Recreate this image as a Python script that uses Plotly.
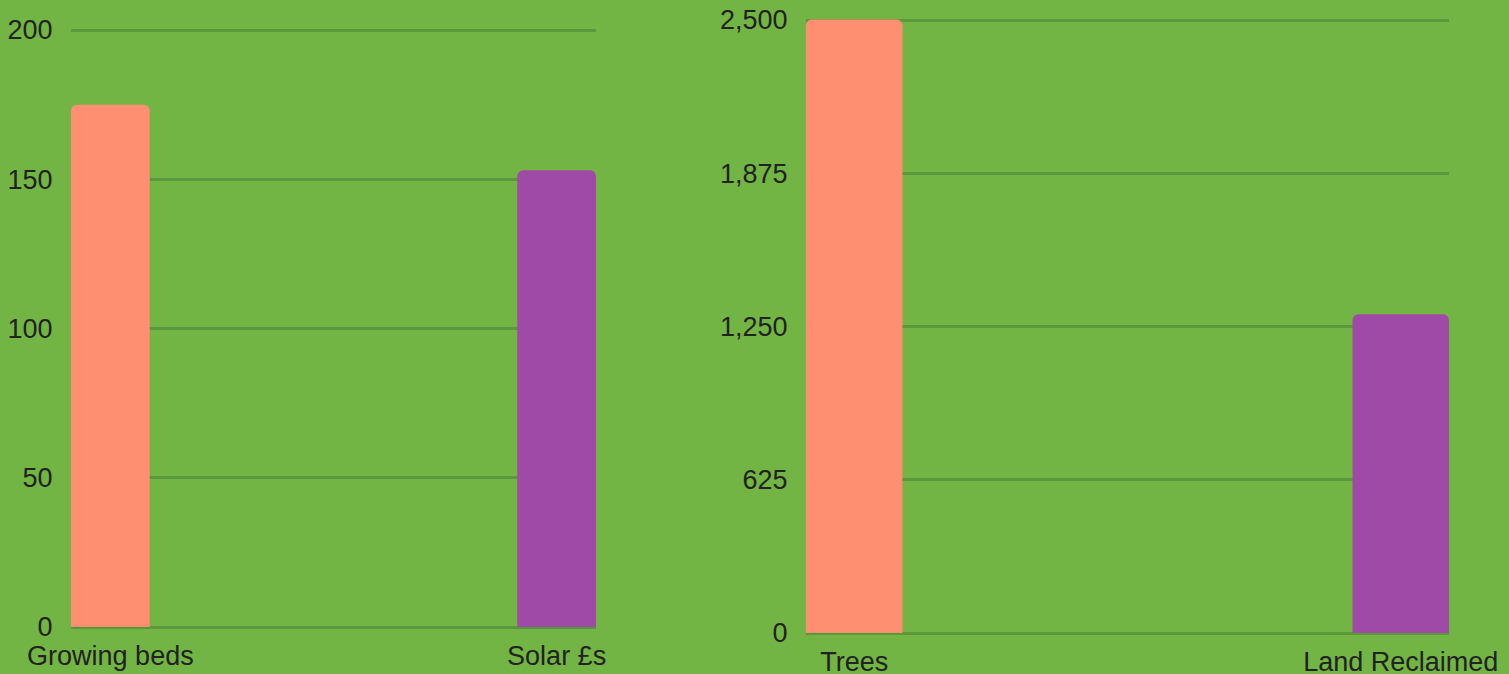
# Importa módulos
import plotly.graph_objects as go

# Dados
categorias_esq = ['Growing beds', 'Solar £s']
valores_esq = [175, 153]
ticks_esq = [0, 50, 100, 150, 200]

categorias_dir = ['Trees', 'Land Reclaimed']
valores_dir = [2502, 1300]
ticks_dir = [0, 625, 1250, 1875, 2500]

# Cores
fundo = '#72B545'
grade = '#5B983C'
texto = '#222222'
cores_barras = ['#FF8F70', '#A04AA8']

largura = 0.1765  # largura das barras (em unidades de categoria)

fig = go.Figure()

# Gráfico da esquerda
fig.add_trace(go.Bar(
    x=categorias_esq,
    y=valores_esq,
    marker=dict(color=cores_barras, line=dict(width=0)),
    width=largura,
    xaxis='x',
    yaxis='y',
    hoverinfo='x+y'
))

# Gráfico da direita
fig.add_trace(go.Bar(
    x=categorias_dir,
    y=valores_dir,
    marker=dict(color=cores_barras, line=dict(width=0)),
    width=largura,
    xaxis='x2',
    yaxis='y2',
    hoverinfo='x+y'
))

eixo_x = dict(
    type='category',
    range=[-largura / 2, 1 + largura / 2],
    showgrid=False,
    zeroline=False,
    showline=False,
    automargin=False,
    ticks='outside',
    ticklen=5,
    tickcolor='rgba(0,0,0,0)',
    tickfont=dict(size=27, color=texto),
    fixedrange=True
)

eixo_y = dict(
    showgrid=True,
    gridcolor=grade,
    gridwidth=2.5,
    zeroline=True,
    zerolinecolor=grade,
    zerolinewidth=2.5,
    showline=False,
    automargin=False,
    ticks='outside',
    ticklen=12,
    tickcolor='rgba(0,0,0,0)',
    tickfont=dict(size=27, color=texto),
    tickformat=',d',
    fixedrange=True
)

# Domínios em pixels (a faixa do eixo y vai um pouco acima do último tick
# para que a linha de grade do topo seja desenhada)
fig.update_layout(
    width=1509,
    height=674,
    template='none',
    margin=dict(l=0, r=0, t=0, b=0),
    paper_bgcolor=fundo,
    plot_bgcolor=fundo,
    font=dict(family='Arial, Liberation Sans, sans-serif', color=texto),
    showlegend=False,
    barcornerradius=6,
    xaxis=dict(eixo_x, domain=[71 / 1509, 596 / 1509], anchor='y'),
    yaxis=dict(eixo_y, domain=[(674 - 627) / 674, (674 - 26) / 674],
               range=[0, 200 * 601 / 597], tickvals=ticks_esq, anchor='x'),
    xaxis2=dict(eixo_x, domain=[806 / 1509, 1449 / 1509], anchor='y2'),
    yaxis2=dict(eixo_y, domain=[(674 - 633) / 674, (674 - 16) / 674],
                range=[0, 2500 * 617 / 613], tickvals=ticks_dir, anchor='x2'),
)

# Remove a margem do corpo da página
fig.write_html("out.html", config={'displayModeBar': False},
               post_script="document.body.style.margin='0';")
